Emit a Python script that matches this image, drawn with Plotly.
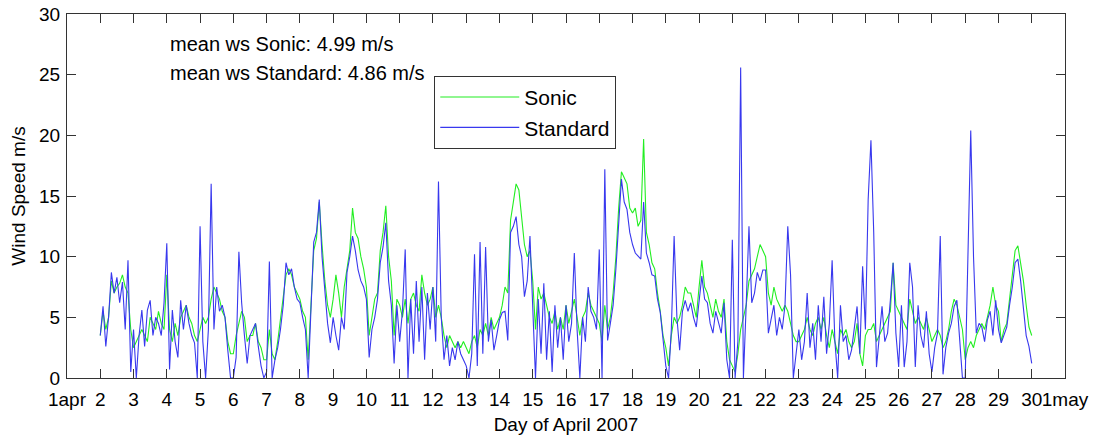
import numpy as np
import plotly.graph_objects as go

# Time grid: 2-hourly samples (day of April 2007)
days_start = 2.0
step = 1.0 / 12.0

standard = [
    3.5, 5.9, 2.6, 5.0, 8.7, 7.0, 8.3, 6.2, 7.9, 4.0, 9.7, 0.5,      # day 2
    4.0, 0.0, 3.5, 5.6, 2.6, 5.6, 6.4, 3.5, 5.0, 4.5, 3.5, 6.2,      # day 3
    11.1, 0.7, 5.6, 3.0, 1.7, 6.4, 4.0, 6.0, 4.5, 3.5, 2.9, 0.0,     # day 4
    12.5, 3.0, 0.0, 4.0, 16.0, 4.0, 7.5, 5.5, 6.0, 5.0, 2.3, 0.0,    # day 5
    0.0, 1.7, 10.4, 6.2, 3.5, 1.2, 3.5, 4.0, 4.5, 2.6, 1.0, 0.0,     # day 6
    0.5, 9.6, 0.0, 1.5, 2.5, 4.0, 6.0, 9.5, 8.5, 9.0, 7.5, 6.5,      # day 7
    6.2, 5.0, 4.0, 0.0, 5.0, 11.2, 12.0, 14.7, 10.0, 7.0, 4.5, 2.9,  # day 8
    5.0, 3.5, 2.3, 5.0, 4.0, 8.7, 10.0, 11.7, 10.5, 8.9, 8.0, 7.5,   # day 9
    6.5, 1.7, 4.0, 5.0, 6.5, 9.5, 10.8, 12.8, 8.0, 6.0, 1.2, 6.0,    # day 10
    3.0, 5.5, 10.6, 0.0, 6.5, 2.0, 8.0, 3.0, 7.5, 1.5, 7.0, 4.0,     # day 11
    7.5, 3.0, 16.2, 5.0, 1.5, 3.5, 1.0, 2.5, 1.5, 3.0, 2.0, 1.5,     # day 12
    1.0, 0.0, 2.0, 10.2, 1.0, 11.2, 2.0, 10.8, 3.0, 4.8, 2.3, 3.5,   # day 13
    4.8, 5.4, 5.5, 3.1, 12.0, 12.5, 13.3, 11.0, 10.0, 6.7, 8.0, 11.7,  # day 14
    5.9, 0.0, 6.5, 2.0, 7.8, 1.5, 5.5, 0.5, 6.0, 2.5, 5.0, 1.5,      # day 15
    6.0, 3.0, 4.5, 10.3, 4.0, 0.0, 5.0, 3.0, 7.5, 5.5, 5.0, 4.0,     # day 16
    10.6, 0.0, 17.2, 3.1, 4.5, 6.0, 9.0, 13.0, 16.4, 14.5, 13.9, 12.0,  # day 17
    11.0, 10.3, 10.0, 9.8, 14.5, 10.3, 9.5, 8.5, 8.4, 6.5, 5.4, 3.0,    # day 18
    1.0, 0.0, 4.0, 11.7, 5.0, 2.3, 5.5, 6.4, 5.5, 6.2, 5.0, 4.2,     # day 19
    6.5, 8.4, 6.5, 6.2, 4.5, 3.7, 5.5, 4.5, 3.7, 6.2, 1.5, 0.0,      # day 20
    11.4, 0.0, 3.0, 25.6, 0.0, 6.0, 12.5, 6.2, 7.0, 8.7, 8.0, 8.9,   # day 21
    8.9, 3.7, 5.0, 6.0, 3.5, 5.0, 4.0, 6.0, 12.5, 8.5, 0.0, 1.8,     # day 22
    4.0, 1.5, 3.0, 7.0, 2.5, 4.5, 1.5, 6.0, 3.0, 6.7, 2.0, 4.5,      # day 23
    9.7, 3.0, 0.0, 6.0, 3.0, 3.5, 1.5, 2.3, 4.0, 5.9, 2.0, 9.2,      # day 24
    4.0, 14.7, 19.6, 12.0, 0.9, 3.7, 5.9, 3.0, 3.7, 6.4, 9.5, 3.7,   # day 25
    0.9, 6.0, 0.9, 3.0, 9.5, 7.5, 0.9, 6.0, 3.5, 2.5, 5.5, 2.0,      # day 26
    0.5, 2.5, 3.7, 11.7, 0.3, 2.5, 3.7, 4.5, 5.9, 6.4, 3.0, 0.0,     # day 27
    0.0, 10.8, 20.4, 10.0, 3.7, 4.5, 4.2, 3.0, 4.8, 5.5, 3.5, 6.4,   # day 28
    4.0, 2.9, 3.5, 4.2, 6.0, 7.5, 9.5, 9.8, 8.0, 5.5, 3.5, 2.6,      # day 29
    1.2,                                                             # day 30
]

sonic = [
    3.5, 5.5, 4.0, 5.0, 8.0, 7.0, 7.5, 7.8, 8.5, 7.5, 7.0, 4.0,      # day 2
    2.5, 3.0, 3.5, 4.0, 3.5, 3.0, 5.0, 4.5, 4.0, 5.5, 4.5, 4.0,      # day 3
    8.5, 4.0, 3.0, 4.5, 3.5, 5.0, 5.5, 6.0, 5.0, 4.5, 3.5, 3.0,      # day 4
    4.0, 5.0, 4.5, 5.0, 6.5, 7.5, 7.0, 6.5, 5.5, 5.0, 3.0, 2.0,      # day 5
    2.0, 3.5, 4.5, 5.5, 5.0, 3.0, 3.5, 3.5, 4.5, 3.0, 2.5, 1.5,      # day 6
    1.5, 4.0, 2.0, 1.5, 3.0, 5.0, 7.0, 8.5, 9.0, 8.5, 7.5, 7.0,      # day 7
    6.5, 5.5, 5.0, 1.5, 6.0, 10.5, 11.5, 14.5, 11.0, 8.0, 6.0, 5.0,  # day 8
    6.5, 8.5, 7.0, 5.0, 7.5, 9.0, 10.5, 14.0, 12.0, 11.5, 10.0, 9.0,  # day 9
    7.5, 3.5, 5.0, 6.5, 7.0, 10.5, 12.0, 14.2, 10.0, 8.0, 3.5, 6.5,  # day 10
    6.0, 5.0, 6.5, 4.5, 6.5, 7.0, 6.0, 5.5, 8.5, 7.0, 6.0, 6.5,      # day 11
    7.5, 5.0, 6.0, 5.0, 3.5, 2.5, 3.5, 3.0, 2.5, 3.0, 2.5, 3.0,      # day 12
    2.5, 2.0, 3.0, 3.5, 2.5, 4.0, 3.5, 4.5, 3.5, 5.0, 4.0, 4.5,      # day 13
    5.0, 6.0, 7.5, 7.0, 13.0, 14.5, 16.0, 15.5, 13.0, 11.0, 10.0, 10.5,  # day 14
    8.0, 4.0, 7.5, 6.5, 7.0, 6.0, 5.0, 4.5, 5.5, 4.0, 5.0, 4.0,      # day 15
    6.0, 4.5, 5.5, 6.5, 5.0, 3.5, 5.0, 5.5, 7.0, 6.0, 5.5, 5.0,      # day 16
    4.5, 3.0, 6.0, 4.0, 5.0, 7.0, 10.0, 14.0, 17.0, 16.5, 16.0, 14.0,   # day 17
    13.6, 14.0, 12.5, 13.0, 19.7, 12.0, 11.0, 9.5, 9.0, 7.0, 5.5, 3.5,  # day 18
    2.5, 1.0, 3.5, 5.0, 4.5, 5.0, 6.0, 7.5, 7.0, 7.0, 6.0, 5.0,      # day 19
    7.5, 9.7, 7.5, 7.0, 6.0, 5.0, 6.5, 5.5, 5.0, 6.5, 3.0, 1.5,      # day 20
    1.0, 0.5, 2.0, 4.0, 5.0, 6.0, 8.0, 8.5, 9.0, 10.0, 11.0, 10.5,   # day 21
    10.0, 7.0, 6.0, 7.5, 6.5, 6.0, 5.5, 6.0, 5.5, 4.5, 3.5, 3.0,     # day 22
    3.0, 3.5, 4.0, 5.0, 4.0, 3.5, 4.5, 5.0, 4.0, 5.0, 3.5, 2.5,      # day 23
    4.0, 3.0, 2.0, 4.0, 3.5, 4.0, 3.0, 2.5, 3.0, 4.5, 2.0, 1.0,      # day 24
    3.5, 4.0, 4.0, 4.5, 3.0, 3.5, 4.0, 4.5, 5.0, 5.5, 9.5, 6.0,      # day 25
    5.5, 5.0, 4.5, 4.0, 6.5, 5.5, 4.5, 5.0, 4.5, 4.0, 5.0, 4.0,      # day 26
    3.0, 3.5, 4.0, 3.5, 2.5, 3.0, 4.0, 5.5, 6.5, 6.0, 5.0, 4.0,      # day 27
    1.5, 2.5, 3.0, 2.5, 3.5, 4.0, 4.5, 4.0, 5.0, 6.0, 7.5, 6.0,      # day 28
    5.5, 3.0, 4.0, 4.5, 6.5, 8.5, 10.5, 10.9, 9.5, 8.0, 6.0, 4.2,    # day 29
    3.5,                                                             # day 30
]

tick_days = list(range(1, 32))
tick_labels = ["1apr"] + [str(d) for d in range(2, 31)] + ["1may"]

mean_labels = ["mean ws Sonic: 4.99 m/s", "mean ws Standard: 4.86 m/s"]

t = days_start + step * np.arange(len(standard))

FONT = "Liberation Sans, Arial, Helvetica, sans-serif"
AX = "#333333"

fig = go.Figure()
fig.add_trace(go.Scatter(x=t, y=sonic, mode="lines", name="Sonic",
                         line=dict(color="#22ee22", width=1.1)))
fig.add_trace(go.Scatter(x=t, y=standard, mode="lines", name="Standard",
                         line=dict(color="#3838ee", width=1.1)))

fig.update_layout(
    width=1098, height=438,
    margin=dict(l=67, r=33, t=14, b=60),
    paper_bgcolor="white", plot_bgcolor="white",
    font=dict(family=FONT, size=19, color="black"),
    showlegend=True,
    legend=dict(x=0.368, y=0.83, xanchor="left", yanchor="top",
                bgcolor="white", bordercolor=AX, borderwidth=1,
                font=dict(size=21), itemwidth=79, tracegroupgap=0),
)
fig.update_xaxes(range=[1, 31], tickmode="array", tickvals=tick_days, ticktext=tick_labels,
                 tickangle=0, tickfont=dict(size=19), ticklabelstandoff=4,
                 ticks="inside", ticklen=9, tickcolor=AX, showline=True, linecolor=AX,
                 linewidth=1, mirror="allticks", showgrid=False, zeroline=False,
                 automargin=False,
                 title=dict(text="Day of April 2007", standoff=8, font=dict(size=19)))
fig.update_yaxes(range=[0, 30], dtick=5, ticks="inside", ticklen=9, tickcolor=AX,
                 tickfont=dict(size=19), ticklabelstandoff=2,
                 showline=True, linecolor=AX, linewidth=1, mirror="allticks",
                 showgrid=False, zeroline=False, automargin=False,
                 title=dict(text="Wind Speed m/s", standoff=8, font=dict(size=19)))

for i, txt in enumerate(mean_labels):
    fig.add_annotation(x=0.101, y=0.918 - i * 0.08, xref="paper", yref="paper",
                       text=txt, showarrow=False, xanchor="left", yanchor="middle",
                       font=dict(size=20))

fig.write_html("out.html")
